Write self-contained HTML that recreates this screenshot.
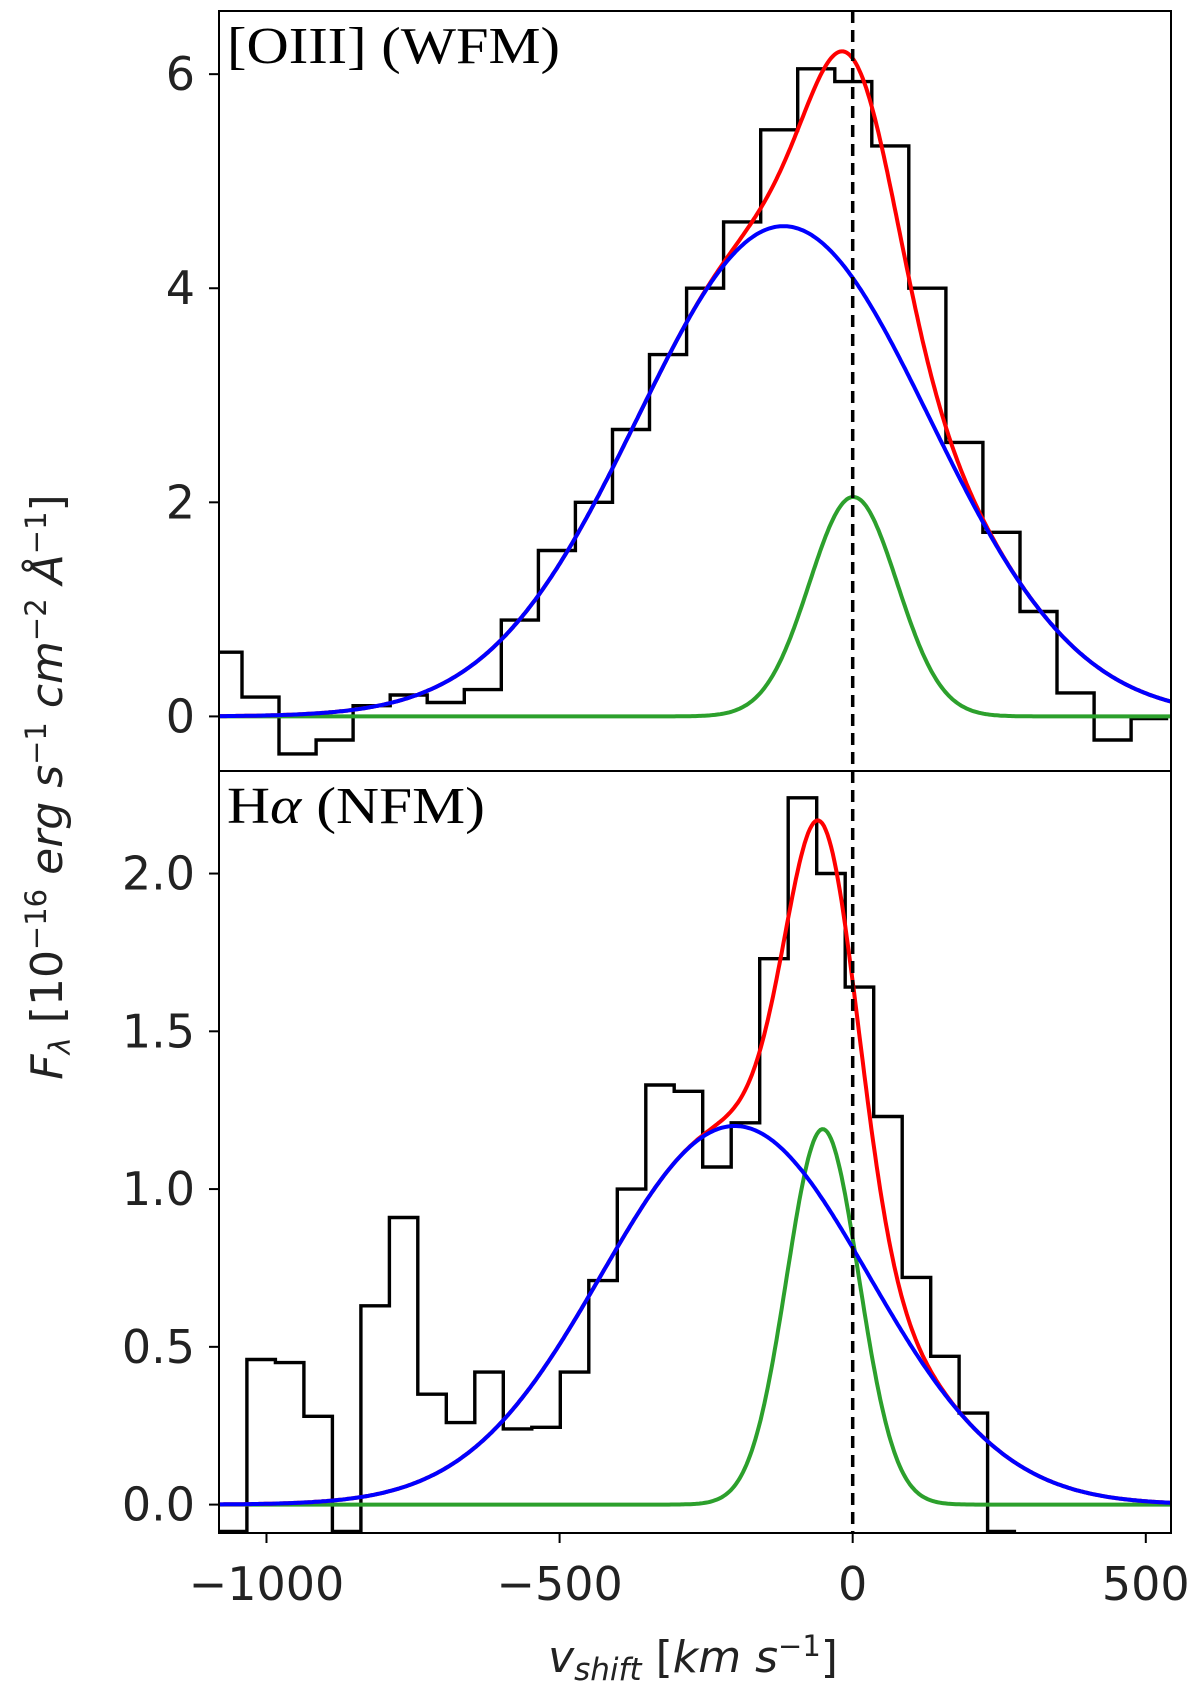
<!DOCTYPE html>
<html><head><meta charset="utf-8"><style>
html,body{margin:0;padding:0;background:#fff;}
svg{display:block;}
</style></head>
<body>
<svg id="chart" width="1200" height="1689" viewBox="0 0 1200 1689" xmlns="http://www.w3.org/2000/svg" font-family="DejaVu Sans, Liberation Sans, sans-serif">
<g id="top"></g>
<g id="bot"></g>
<g id="common"></g>
</svg>
<script>
// ---- data ----
const xTicks = [-1000, -500, 0, 500];
const xTickLabels = ["\u22121000", "\u2212500", "0", "500"];
const topYTicks = [0, 2, 4, 6];
const topYTickLabels = ["0", "2", "4", "6"];
const botYTicks = [0, 0.5, 1.0, 1.5, 2.0];
const botYTickLabels = ["0.0", "0.5", "1.0", "1.5", "2.0"];
const topBinStart = -1109;
const topBinWidth = 63.2;
const topFlux = [0.6,0.18,-0.35,-0.22,0.1,0.2,0.13,0.25,0.9,1.55,2.0,2.68,3.38,4.0,4.62,5.48,6.05,5.93,5.33,4.0,2.56,1.72,0.98,0.22,-0.22,-0.02];
const botBinStart = -1086;
const botBinWidth = 48.6;
const botFlux = [-0.1,0.46,0.45,0.28,-0.1,0.63,0.91,0.35,0.26,0.42,0.24,0.245,0.42,0.71,1.0,1.33,1.31,1.07,1.21,1.73,2.24,2.0,1.64,1.23,0.72,0.47,0.29,-0.09];
// gaussian components: [amplitude, center, sigma]
const topBroad = [4.58, -122, 250];
const topNarrow = [2.05, -3, 75];
const botBroad = [1.2, -205, 228];
const botNarrow = [1.19, -55, 61.5];

// ---- layout ----
const L = 219, R = 1171, XMIN = -1085, XMAX = 539;
const sx = v => L + (v - XMIN) / (XMAX - XMIN) * (R - L);
const NS = "http://www.w3.org/2000/svg";
function mk(parent, tag, attrs, txt){
  const e = document.createElementNS(NS, tag);
  for (const k in attrs) e.setAttribute(k, attrs[k]);
  if (txt !== undefined) e.textContent = txt;
  parent.appendChild(e);
  return e;
}
const g = (p, v) => p[0] * Math.exp(-((v - p[1]) ** 2) / (2 * p[2] * p[2]));

function panel(gid, top, bottom, ymin, ymax, ticks, tickLabels, start, w, flux, broad, narrow, label, labelLen, pname){
  const G = document.getElementById(gid);
  const sy = y => bottom - (y - ymin) / (ymax - ymin) * (bottom - top);
  const clipId = "clip" + gid;
  const cp = mk(G, "clipPath", {id: clipId});
  mk(cp, "rect", {x: L, y: top, width: R - L, height: bottom - top});
  const inner = mk(G, "g", {"clip-path": "url(#" + clipId + ")"});
  let d = "";
  flux.forEach((f, i) => {
    const x0 = sx(start + i * w), x1 = sx(start + (i + 1) * w);
    const yy = Math.min(Math.max(sy(f), top - 5), bottom - 1.5);
    d += (i === 0 ? "M" : "L") + x0.toFixed(1) + "," + yy.toFixed(1) + "L" + x1.toFixed(1) + "," + yy.toFixed(1);
  });
  const hist = mk(inner, "path", {d: d, fill: "none", stroke: "#000", "stroke-width": 3.4});
  
  
  const curves = [
    ["#2ca02c", v => g(narrow, v), "narrow-component"],
    ["#ff0000", v => g(broad, v) + g(narrow, v), "total-fit"],
    ["#0000ff", v => g(broad, v), "broad-component"]
  ];
  curves.forEach(c => {
    let p = "";
    for (let v = XMIN; v <= XMAX; v += 3) {
      p += (p ? "L" : "M") + sx(v).toFixed(1) + "," + sy(c[1](v)).toFixed(1);
    }
    const el = mk(inner, "path", {d: p, fill: "none", stroke: c[0], "stroke-width": 4});
    
    
  });
  const fr = mk(G, "rect", {x: L, y: top, width: R - L, height: bottom - top, fill: "none", stroke: "#000", "stroke-width": 2});
  
  
  ticks.forEach((t, i) => {
    const y = sy(t);
    mk(G, "line", {x1: L - 10, x2: L, y1: y, y2: y, stroke: "#000", "stroke-width": 2});
    const tl = mk(G, "text", {x: L - 24, y: y + 16, "text-anchor": "end", "font-size": 46, fill: "#222"}, tickLabels[i]);
    
    
  });
  const lb = mk(G, "text", {x: 227, y: top + 52, "font-size": 52, fill: "#000", textLength: labelLen, lengthAdjust: "spacingAndGlyphs", style: "font-family:'Liberation Serif',serif"}, "");
  lb.innerHTML = label;
  
  
}
panel("top", 11, 771, -0.51, 6.59, topYTicks, topYTickLabels, topBinStart, topBinWidth, topFlux, topBroad, topNarrow, "[OIII] (WFM)", 333, "oiii");
panel("bot", 771, 1533, -0.09, 2.325, botYTicks, botYTickLabels, botBinStart, botBinWidth, botFlux, botBroad, botNarrow, 'H<tspan font-style="italic">α</tspan> (NFM)', 258, "halpha");

const C = document.getElementById("common");
const dl = mk(C, "line", {x1: sx(-4), x2: sx(-4), y1: 11, y2: 1533, stroke: "#000", "stroke-width": 3.5, "stroke-dasharray": "12,7"});


xTicks.forEach((t, i) => {
  const x = sx(t - 4);
  mk(C, "line", {x1: x, x2: x, y1: 1533, y2: 1543, stroke: "#000", "stroke-width": 2});
  const tl = mk(C, "text", {x: x, y: 1600, "text-anchor": "middle", "font-size": 46, fill: "#222"}, xTickLabels[i]);
  
  
});
const xl = mk(C, "text", {x: 693, y: 1672, "text-anchor": "middle", "font-size": 44, fill: "#222"}, "");
xl.innerHTML = '<tspan font-style="italic">v</tspan><tspan font-style="italic" font-size="31" dy="8">shift</tspan><tspan dy="-8"> [</tspan><tspan font-style="italic">km s</tspan><tspan font-size="29" dy="-16">−1</tspan><tspan dy="16">]</tspan>';


const yl = mk(C, "text", {x: 0, y: 0, "text-anchor": "middle", "font-size": 44, fill: "#222", transform: "translate(62,787) rotate(-90)"}, "");
yl.innerHTML = '<tspan font-style="italic">F</tspan><tspan font-style="italic" font-size="29" dy="8">λ</tspan><tspan dy="-8"> [10</tspan><tspan font-size="29" dy="-16">−16</tspan><tspan dy="16" font-style="italic"> erg s</tspan><tspan font-size="29" dy="-16">−1</tspan><tspan dy="16" font-style="italic"> cm</tspan><tspan font-size="29" dy="-16">−2</tspan><tspan dy="16" font-style="italic"> Å</tspan><tspan font-size="29" dy="-16">−1</tspan><tspan dy="16">]</tspan>';


</script>
</body></html>
